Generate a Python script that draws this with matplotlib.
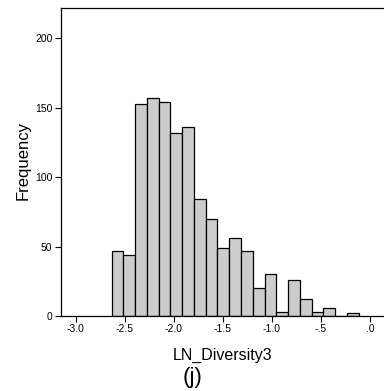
import matplotlib
matplotlib.use('Agg')
import matplotlib.pyplot as plt
import numpy as np

plt.rcParams['font.family'] = ['Liberation Sans', 'DejaVu Sans']

# histogram of LN_Diversity3 (counts)
bin_start = -2.636
bin_width = 0.12
counts = [47, 44, 153, 157, 154, 132, 136, 84, 70, 49, 56, 47, 20, 30, 3, 26, 12, 3, 6, 0, 2]
x_ticks = [-3.0, -2.5, -2.0, -1.5, -1.0, -0.5, 0.0]
x_tick_labels = ['-3.0', '-2.5', '-2.0', '-1.5', '-1.0', '-.5', '.0']
y_ticks = [0, 50, 100, 150, 200]

edges = bin_start + bin_width * np.arange(len(counts) + 1)

fig = plt.figure(figsize=(3.84, 3.91), dpi=100)
ax = fig.add_axes([0.158, 0.192, 0.842, 0.788])

ax.bar(edges[:-1], counts, width=bin_width, align='edge',
       color='#cccccc', edgecolor='black', linewidth=0.9)

ax.set_xlim(-3.156, 0.143)
ax.set_ylim(0, 222)
ax.set_xticks(x_ticks)
ax.set_xticklabels(x_tick_labels)
ax.set_yticks(y_ticks)
ax.tick_params(axis='both', direction='out', length=4.5, width=0.8, labelsize=7.5, pad=1.5)

ax.spines['right'].set_visible(False)
for s in ['left', 'bottom', 'top']:
    ax.spines[s].set_linewidth(0.9)

ax.set_ylabel('Frequency', fontsize=12, va='center', ha='center')
ax.yaxis.set_label_coords(-0.117, 0.503)
ax.set_xlabel('LN_Diversity3', fontsize=11.5, va='center', ha='center')
ax.xaxis.set_label_coords(0.502, -0.127)
fig.text(193 / 384, 1 - 378 / 391, '(j)', fontsize=16, ha='center', va='center')

fig.savefig('out.png', dpi=100)
